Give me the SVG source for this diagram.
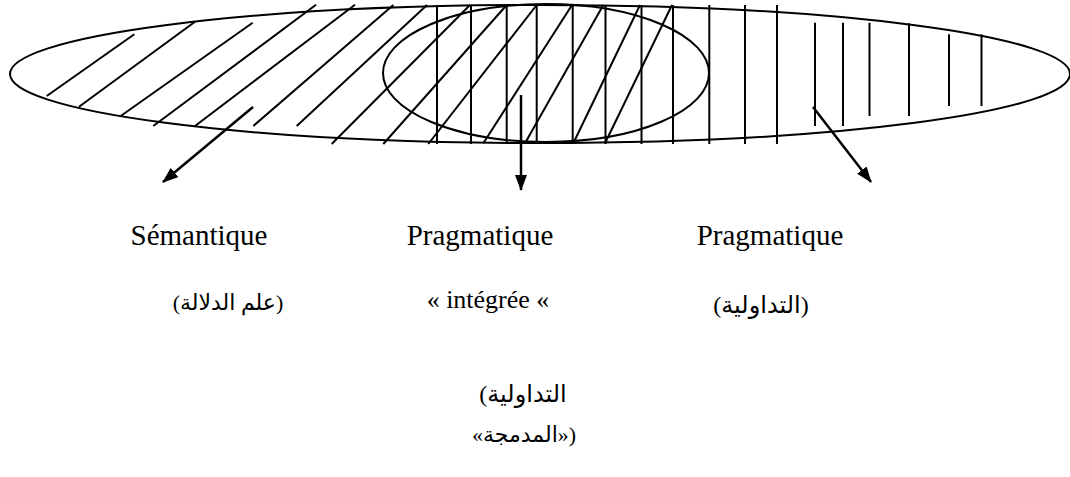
<svg xmlns="http://www.w3.org/2000/svg" width="1070" height="477" viewBox="0 0 1070 477">
<defs>
<style>
.shape{fill:none;stroke:#000;stroke-width:2}
.hatch{stroke:#000;stroke-width:2;fill:none}
.conn{stroke:#000;stroke-width:2.5;fill:none}
.lbl{font-family:"Liberation Serif","Times New Roman",serif;font-size:29px;fill:#000;text-anchor:middle}
.ar{font-family:"Liberation Serif","DejaVu Sans",serif;font-size:24px;fill:#000;text-anchor:middle}
</style>
<marker id="ahb" viewBox="0 0 16 12" refX="15" refY="6" markerWidth="16" markerHeight="12" orient="auto" markerUnits="userSpaceOnUse">
<path d="M0,0 L16,6 L0,12 z" fill="#000"/>
</marker>
</defs>
<g id="outer-ellipse">
<ellipse class="shape" cx="540" cy="74" rx="530" ry="69"/>
</g>
<g id="inner-ellipse">
<ellipse class="shape" cx="546" cy="73" rx="163" ry="69"/>
</g>
<g id="diagonal-hatch" class="hatch">
<line x1="46.7" y1="96" x2="134.3" y2="34.3"/>
<line x1="79" y1="106.7" x2="195" y2="21.7"/>
<line x1="120.7" y1="116" x2="252.7" y2="22.7"/>
<line x1="153.3" y1="126" x2="316" y2="4.7"/>
<line x1="195" y1="126" x2="355" y2="4.7"/>
<line x1="253.3" y1="126" x2="393.3" y2="5"/>
<line x1="296.7" y1="126" x2="427" y2="5"/>
<line x1="331.7" y1="144" x2="470" y2="5"/>
<line x1="383.3" y1="144" x2="506.7" y2="5"/>
<line x1="428.3" y1="144" x2="536.7" y2="5"/>
<line x1="483.3" y1="143.3" x2="572" y2="5"/>
<line x1="525" y1="143.3" x2="603.3" y2="5"/>
<line x1="573.3" y1="143.3" x2="640" y2="5"/>
<line x1="605" y1="143.3" x2="672" y2="5"/>
</g>
<g id="vertical-hatch" class="hatch">
<line x1="437" y1="5" x2="437" y2="144"/>
<line x1="471" y1="5" x2="471" y2="144"/>
<line x1="506.7" y1="5" x2="506.7" y2="144"/>
<line x1="536.7" y1="5" x2="536.7" y2="144"/>
<line x1="572.7" y1="5" x2="572.7" y2="144"/>
<line x1="605.5" y1="5" x2="605.5" y2="144"/>
<line x1="641.5" y1="5" x2="641.5" y2="144"/>
<line x1="673" y1="5" x2="673" y2="144"/>
<line x1="709.3" y1="5" x2="709.3" y2="144"/>
<line x1="745" y1="5" x2="745" y2="144"/>
<line x1="777" y1="5" x2="777" y2="144"/>
<line x1="815" y1="22.7" x2="815" y2="126"/>
<line x1="843" y1="22.7" x2="843" y2="126"/>
<line x1="869.5" y1="22.7" x2="869.5" y2="116"/>
<line x1="909" y1="23.3" x2="909" y2="116"/>
<line x1="949" y1="34.3" x2="949" y2="106"/>
<line x1="981.5" y1="34.3" x2="981.5" y2="106"/>
</g>
<g id="connectors">
<line class="conn" x1="253" y1="107" x2="163" y2="182" marker-end="url(#ahb)"/>
<line class="conn" x1="521" y1="95" x2="521" y2="190" marker-end="url(#ahb)"/>
<line class="conn" x1="813" y1="107" x2="871" y2="182" marker-end="url(#ahb)"/>
</g>
<g id="node-semantique">
<text class="lbl" x="199" y="245">Sémantique</text>
<text class="ar" x="228" y="310" style="font-size:22px">(علم الدلالة)</text>
</g>
<g id="node-pragmatique-integree">
<text class="lbl" x="480" y="245">Pragmatique</text>
<text class="lbl" x="488" y="308" style="font-size:26px">« intégrée «</text>
<text class="ar" x="523" y="402">(التداولية</text>
<text class="ar" x="524" y="442" style="font-size:22px">«المدمجة»)</text>
</g>
<g id="node-pragmatique">
<text class="lbl" x="770" y="245">Pragmatique</text>
<text class="ar" x="761" y="313">(التداولية)</text>
</g>
</svg>
